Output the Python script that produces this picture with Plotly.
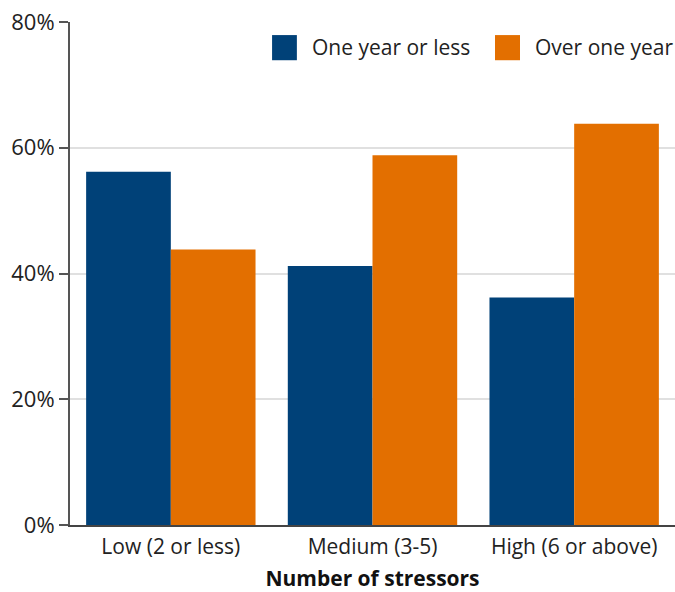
import plotly.graph_objects as go

categories = ["Low (2 or less)", "Medium (3-5)", "High (6 or above)"]
one_year_or_less = [56.2, 41.2, 36.2]
over_one_year = [43.8, 58.8, 63.8]
series_names = ["One year or less", "Over one year"]
colors = ["#004178", "#E36F00"]
y_ticks = [0, 20, 40, 60, 80]

font_family = "Open Sans, Noto Sans, sans-serif"

fig = go.Figure()
for name, vals, col in zip(series_names, [one_year_or_less, over_one_year], colors):
    fig.add_trace(go.Bar(x=categories, y=vals, name=name,
                         marker=dict(color=col, line=dict(width=0)), showlegend=False))

# manual legend with large square swatches (paper coordinates of the plot area)
legend_items = [
    (series_names[0], colors[0], 0.334, 0.375, 0.3967),
    (series_names[1], colors[1], 0.7025, 0.7438, 0.7653),
]
for name, col, x0, x1, xt in legend_items:
    fig.add_shape(type="rect", xref="paper", yref="paper", x0=x0, x1=x1, y0=0.924, y1=0.974,
                  fillcolor=col, line=dict(width=0))
    fig.add_annotation(text=name, xref="paper", yref="paper", x=xt, y=0.951,
                       xanchor="left", yanchor="middle", showarrow=False,
                       font=dict(size=21, color="#222222"))

fig.update_layout(
    width=675, height=592,
    margin=dict(l=70, r=0, t=22, b=67, autoexpand=False),
    plot_bgcolor="white", paper_bgcolor="white",
    barmode="group", bargap=0.16, bargroupgap=0,
    font=dict(family=font_family, size=21, color="#222222"),
    showlegend=False,
    xaxis=dict(showline=True, linecolor="#444444", linewidth=2, ticks="outside", ticklen=2,
               tickcolor="rgba(0,0,0,0)",
               title=dict(text="<b>Number of stressors</b>", font=dict(size=21, color="#111111"), standoff=16),
               tickfont=dict(size=21, color="#222222")),
    yaxis=dict(range=[0, 80], tickvals=y_ticks, ticktext=[f"{v}%" for v in y_ticks],
               showline=True, linecolor="#555555", linewidth=2, ticks="outside", ticklen=9,
               tickcolor="#555555", tickwidth=1.5,
               showgrid=True, gridcolor="#E0E0E0", gridwidth=1.5, zeroline=False,
               tickfont=dict(size=22, color="#222222")),
)

fig.write_html("out.html",
               config={"displayModeBar": False},
               post_script="document.body.style.margin='0';document.body.style.overflow='hidden';")
